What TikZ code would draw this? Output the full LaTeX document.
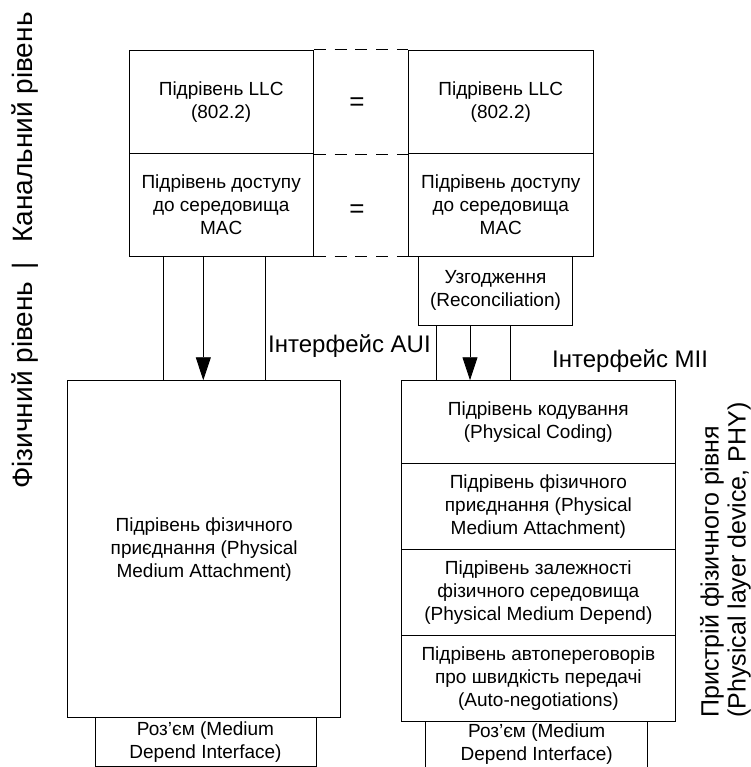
\documentclass[tikz,border=0pt]{standalone}
\usepackage{fontspec}
\setmainfont{Liberation Sans}
\usetikzlibrary{arrows.meta}
\begin{document}
\begin{tikzpicture}[x=1pt,y=-1pt,
  box/.style={draw=black, line width=0.9pt, inner sep=0pt, align=center,
    font=\fontsize{19}{23}\selectfont},
  link/.style={line width=0.9pt},
  arrowlink/.style={line width=0.9pt, -{Triangle[length=23pt,width=15pt]}},
  peer/.style={line width=0.9pt, dash pattern=on 12pt off 8.75pt},
  eqsign/.style={inner sep=0pt, font=\fontsize{26}{30}\selectfont},
  iflabel/.style={anchor=base west, inner sep=0pt, font=\fontsize{24}{28}\selectfont},
  sidelabel/.style={inner sep=0pt, rotate=90, font=\fontsize{25}{27}\selectfont}
]
\useasboundingbox (0,0) rectangle (750,767);

% data link layer, left station
\node[box, minimum width=184.3pt, minimum height=103.4pt] (llcL) at (221.2,102) {Підрівень LLC\\(802.2)};
\node[box, minimum width=184.3pt, minimum height=102.6pt] (macL) at (221.2,205) {Підрівень доступу\\до середовища\\MAC};

% data link layer, right station
\node[box, minimum width=185pt, minimum height=103.4pt] (llcR) at (500.8,102) {Підрівень LLC\\(802.2)};
\node[box, minimum width=185pt, minimum height=102.6pt] (macR) at (500.8,205) {Підрівень доступу\\до середовища\\MAC};
\node[box, minimum width=153.6pt, minimum height=68.7pt] (rec) at (495.5,290.65) {Узгодження\\(Reconciliation)};

% peer relations
\draw[peer] (llcL.north east) -- (llcR.north west);
\draw[peer] (llcL.south east) -- (llcR.south west);
\draw[peer] (macL.south east) -- (macR.south west);
\node[eqsign] (eq1) at (357,104) {=};
\node[eqsign] (eq2) at (357,211) {=};

% physical layer, left station
\node[box, minimum width=273pt, minimum height=337pt] (pmaL) at (204.2,549.2) {Підрівень фізичного\\приєднання (Physical\\Medium Attachment)};
\node[box, minimum width=221pt, minimum height=48.3pt] (mdiL) at (205.5,741.85) {Роз’єм (Medium\\Depend Interface)};

% physical layer device, right station
\node[box, minimum width=273.3pt, minimum height=82.6pt] (pcs) at (538.35,422) {Підрівень кодування\\(Physical Coding)};
\node[box, minimum width=273.3pt, minimum height=85.7pt] (pmaR) at (538.35,506.15) {Підрівень фізичного\\приєднання (Physical\\Medium Attachment)};
\node[box, minimum width=273.3pt, minimum height=86.7pt] (pmdR) at (538.35,592.35) {Підрівень залежності\\фізичного середовища\\(Physical Medium Depend)};
\node[box, minimum width=273.3pt, minimum height=85.3pt] (anR) at (538.35,678.35) {Підрівень автопереговорів\\про швидкість передачі\\(Auto-negotiations)};
\node[box, minimum width=222pt, minimum height=47pt] (mdiR) at (536.7,744.5) {Роз’єм (Medium\\Depend Interface)};

% AUI interface lines
\coordinate (a1) at (163,0);
\coordinate (a2) at (203.3,0);
\coordinate (a3) at (265.7,0);
\draw[link] (macL.south -| a1) -- (pmaL.north -| a1);
\draw[arrowlink] (macL.south -| a2) -- (pmaL.north -| a2);
\draw[link] (macL.south -| a3) -- (pmaL.north -| a3);

% MII interface lines
\coordinate (m1) at (436,0);
\coordinate (m2) at (470,0);
\coordinate (m3) at (510.7,0);
\draw[link] (rec.south -| m1) -- (pcs.north -| m1);
\draw[arrowlink] (rec.south -| m2) -- (pcs.north -| m2);
\draw[link] (rec.south -| m3) -- (pcs.north -| m3);

\node[iflabel] (aui) at (268,352) {Інтерфейс AUI};
\node[iflabel] (mii) at (552,367) {Інтерфейс MII};

% layer captions
\node[sidelabel, font=\fontsize{28}{30}\selectfont] (layers) at (25,250.5) {Фізичний рівень\hspace{4pt} | \hspace{12pt}Канальний рівень};
\node[sidelabel, anchor=west, align=left] (phy) at (725.5,718) {Пристрій фізичного рівня\\(Physical layer device, PHY)};
\end{tikzpicture}
\end{document}
